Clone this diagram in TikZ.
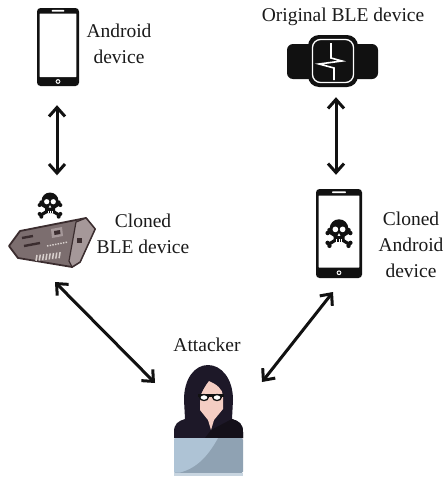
\documentclass[tikz,border=0pt]{standalone}
\usepackage{fontspec}
\setmainfont{Liberation Serif}
\usetikzlibrary{arrows.meta}

\definecolor{ink}{HTML}{111111}
\definecolor{txt}{HTML}{1A1A1A}
\definecolor{pcb}{HTML}{7C6E6F}
\definecolor{pcbedge}{HTML}{3B2D2F}
\definecolor{pcblight}{HTML}{A59899}
\definecolor{pcbpin}{HTML}{D8D0CD}
\definecolor{hood}{HTML}{1D1828}
\definecolor{hooddark}{HTML}{141019}
\definecolor{skin}{HTML}{F4CDC3}
\definecolor{lidlight}{HTML}{AEC3D5}
\definecolor{liddark}{HTML}{8FA2B3}
\definecolor{lidbase}{HTML}{C8D5E0}

% handset: x0, y0 (top left), width, height, top band, bottom band
\newcommand\drawhandset[6]{%
  \fill[ink, rounded corners=3.5pt] (#1,#2) rectangle ++(#3,#4);
  \fill[white, rounded corners=0.5pt] (#1+2.6,#2+#5) rectangle (#1+#3-2.6,#2+#4-#6);
  \fill[white, rounded corners=0.6pt] (#1+#3*0.35,#2+#5/2-0.8) rectangle (#1+#3*0.65,#2+#5/2+0.8);
  \fill[white] (#1+#3/2,#2+#4-#6/2) circle[radius=2.4];
  \fill[ink] (#1+#3/2,#2+#4-#6/2) circle[radius=1.3];
}

\tikzset{
  label/.style={text=txt, align=center, inner sep=0pt,
    font=\fontsize{19.5}{26}\selectfont},
  iconbox/.style={draw=none, inner sep=0pt, minimum width=#1},
  arr/.style={line width=3pt, draw=ink,
    {Straight Barb[length=9pt,width=16pt]}-{Straight Barb[length=9pt,width=16pt]}},
  skull/.pic={
    \draw[ink, line width=3.2pt] (-9,-1) -- (9,10) (9,-1) -- (-9,10);
    \fill[ink] (-10.34,0.05) circle[radius=2] (-8.68,-2.67) circle[radius=2]
               (8.68,11.67) circle[radius=2] (10.34,8.95) circle[radius=2]
               (10.34,0.05) circle[radius=2] (8.68,-2.67) circle[radius=2]
               (-8.68,11.67) circle[radius=2] (-10.34,8.95) circle[radius=2];
    \fill[ink] (0,-4) circle[radius=8.5];
    \fill[ink, rounded corners=1.5pt] (-5,0) rectangle (5,8);
    \fill[white] (-3.3,-3.3) circle[radius=2.6] (3.3,-3.3) circle[radius=2.6];
    \fill[white] (0,0.2) -- (-1.3,2.6) -- (1.3,2.6) -- cycle;
    \draw[white, line width=0.7pt] (-2,5.6) -- (-2,8) (0,5.6) -- (0,8) (2,5.6) -- (2,8);
  }
}

\begin{document}
\begin{tikzpicture}[x=1pt, y=-1pt]
\fill[white] (0,0) rectangle (446,477);
\useasboundingbox (0,0) rectangle (446,477);

% ---------- Android device (top left) ----------
\node[iconbox=42pt, minimum height=78pt] (phoneA) at (58,47) {};
\drawhandset{37}{8}{42}{78}{5.5}{9}
\node[label] (phoneAtext) at (119,44) {Android\\device};

% ---------- Original BLE device (smart watch) ----------
\node[iconbox=91pt, minimum height=52pt] (watch) at (333,61) {};
\fill[ink, rounded corners=6pt] (287,44) rectangle (314,79);
\fill[ink, rounded corners=6pt] (352,44) rectangle (378,79);
\fill[ink, rounded corners=11pt] (308,35) rectangle (358,87);
\draw[white, line width=1.3pt, rounded corners=8pt] (312.5,39.5) rectangle (353.5,82.5);
\draw[white, line width=1.6pt, line join=miter] (331,43) -- (331,58) -- (342,61)
  -- (319,64) -- (334,68) -- (334,80);
\node[label] (watchtext) at (343,17) {Original BLE device};

% ---------- Cloned BLE device (network card with skull) ----------
\node[iconbox=87pt, minimum height=75pt] (cardL) at (52,230) {};
\pic at (50,205) {skull};
\filldraw[fill=pcb, draw=pcbedge, line width=1.8pt, line join=round]
  (9,246) -- (20,231) -- (86,218) -- (95,229) -- (80,262) -- (72,267) -- (18,258) -- cycle;
\filldraw[fill=pcblight, draw=pcbedge, line width=1.2pt, line join=round]
  (76,222) -- (86,218) -- (95,229) -- (80,262) -- (72,267) -- (69,261) -- cycle;
\fill[pcbedge] (77,238) rectangle (82,243);
\fill[pcblight] (51,229) -- (62,227) -- (63,236) -- (52,238) -- cycle;
\fill[pcbedge] (54,231) -- (60,230) -- (60.5,234) -- (54.5,235) -- cycle;
\draw[pcbedge, line width=2.4pt] (22,238) -- (33,236) (24,246) -- (40,243);
\draw[pcbpin, line width=1.4pt, dash pattern=on 1.5pt off 1.2pt] (47,246) -- (68,242);
\foreach \i in {0,...,7}
  \draw[pcbpin, line width=1.5pt] (36+3.3*\i,261-0.4*\i) -- (37+3.3*\i,255-0.4*\i);
\node[label] (cardtext) at (143,234) {Cloned\\BLE device};

% ---------- Cloned Android device (handset with skull) ----------
\node[iconbox=46pt, minimum height=89pt] (phoneB) at (339,233.5) {};
\drawhandset{316}{189}{46}{89}{6.5}{10.5}
\pic[scale=1.1] at (339,233) {skull};
\node[label] (phoneBtext) at (411,245) {Cloned\\Android\\device};

% ---------- Attacker ----------
\node[iconbox=70pt, minimum height=110pt] (attacker) at (208,420) {};
\node[label] (attackertext) at (207,345) {Attacker};
% hood and shoulders
\fill[hood] (174,438) -- (174,432) .. controls (174,424) and (178,421) .. (185,419)
  -- (184,400) .. controls (184,378) and (195,365) .. (208,365)
  .. controls (221,365) and (233,378) .. (233,400) -- (232,419)
  .. controls (239,421) and (243,424) .. (243,432) -- (243,438) -- cycle;
\fill[hooddark] (211,430) -- (232,419) .. controls (239,421) and (243,424) .. (243,432)
  -- (243,438) -- (205,438) -- cycle;
% face
\fill[skin] (209,381) .. controls (216,384) and (223,389) .. (223,396) -- (223,409)
  -- (214,420) -- (211,430) -- (208,420) -- (200,410) -- (200,397)
  .. controls (202,391) and (205,386) .. (209,381) -- cycle;
\fill[hood] (209,379) .. controls (205,386) and (202,391) .. (199,398) -- (198,390)
  .. controls (201,384) and (205,380) .. (209,379) -- cycle;
% glasses
\draw[ink, line width=2.4pt] (198,395.5) -- (224,395.5);
\filldraw[fill=white, draw=ink, line width=1.3pt] (204,397.5) ellipse[x radius=4.2, y radius=3]
  (217,397.5) ellipse[x radius=4.2, y radius=3];
% laptop
\fill[liddark, rounded corners=1.5pt] (174,438) rectangle (243,473);
\fill[lidlight] (174,472.5) -- (174,439.5) .. controls (174,438.5) and (175,438) .. (176,438)
  -- (218,438) .. controls (208,456) and (197,468) .. (180,472.5) -- cycle;
\fill[lidbase] (174,472.5) rectangle (243,475.5);

% ---------- links ----------
\coordinate (cardTip) at (55,282);
\coordinate (attL) at (155,383);
\coordinate (phoneBTip) at (333,292);
\coordinate (attR) at (262,382);
\draw[arr, shorten <=19pt, shorten >=17pt] ([xshift=-1pt]phoneA.south) -- ([xshift=-1pt]phoneA.south |- cardL.north);
\draw[arr, shorten <=10pt, shorten >=14pt] ([xshift=3pt]watch.south) -- ([xshift=3pt]watch.south |- phoneB.north);
\draw[arr] (cardTip) -- (attL);
\draw[arr] (phoneBTip) -- (attR);
\end{tikzpicture}
\end{document}
